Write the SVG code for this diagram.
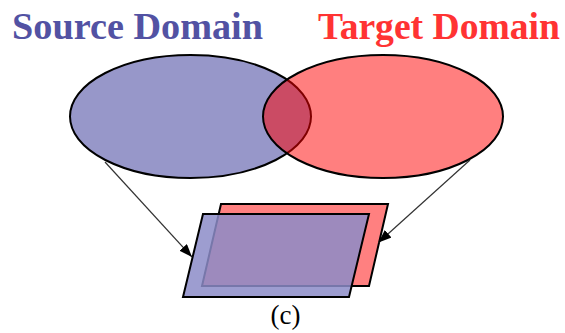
<svg xmlns="http://www.w3.org/2000/svg" width="565" height="333" viewBox="0 0 565 333">
  <defs>
    <style>
      .title { font-weight: bold; font-size: 38px; }
      .caption { font-size: 27px; fill: #000; }
      .outline { stroke: #000; stroke-width: 2; }
      .conn { stroke: #333; stroke-width: 1.2; fill: none; marker-end: url(#arrow); }
    </style>
    <marker id="arrow" markerUnits="userSpaceOnUse" markerWidth="14" markerHeight="10" refX="13" refY="5" orient="auto">
      <path d="M0,0 L13,5 L0,10 z" fill="#000"/>
    </marker>
  </defs>
  <rect width="565" height="333" fill="#fff"/>

  <!-- domain labels -->
  <g font-family="'Liberation Serif', 'DejaVu Serif', serif">
    <text class="title" x="12" y="38.5" fill="#5252a3" textLength="251" lengthAdjust="spacingAndGlyphs">Source Domain</text>
    <text class="title" x="318" y="38.5" fill="#ff3333" textLength="242" lengthAdjust="spacingAndGlyphs">Target Domain</text>
  </g>

  <!-- source domain ellipse -->
  <g id="source-domain">
    <ellipse class="outline" cx="190.5" cy="116.5" rx="120.5" ry="61.5" fill="#9797c9"/>
  </g>

  <!-- target domain ellipse, translucent over the source -->
  <g id="target-domain">
    <ellipse class="outline" cx="383" cy="116.5" rx="120" ry="61.5" fill="#ff0000" fill-opacity="0.5"/>
  </g>

  <!-- shared feature space: target plane behind, source plane in front -->
  <g id="target-plane">
    <polygon class="outline" points="221,204 388,204 369,286 202,286" fill="#ff8080"/>
  </g>
  <g id="source-plane">
    <polygon points="203,214 369,214 349,297 183,297" fill="#8c8cc8" fill-opacity="0.85"/>
    <polygon class="outline" points="203,214 369,214 349,297 183,297" fill="none"/>
  </g>

  <!-- projections -->
  <g id="connectors">
    <line class="conn" x1="105" y1="162" x2="192" y2="257"/>
    <line class="conn" x1="470" y1="160" x2="378.5" y2="242.5"/>
  </g>

  <text class="caption" font-family="'Liberation Serif', 'DejaVu Serif', serif" x="285.5" y="323.5" text-anchor="middle">(c)</text>
</svg>
